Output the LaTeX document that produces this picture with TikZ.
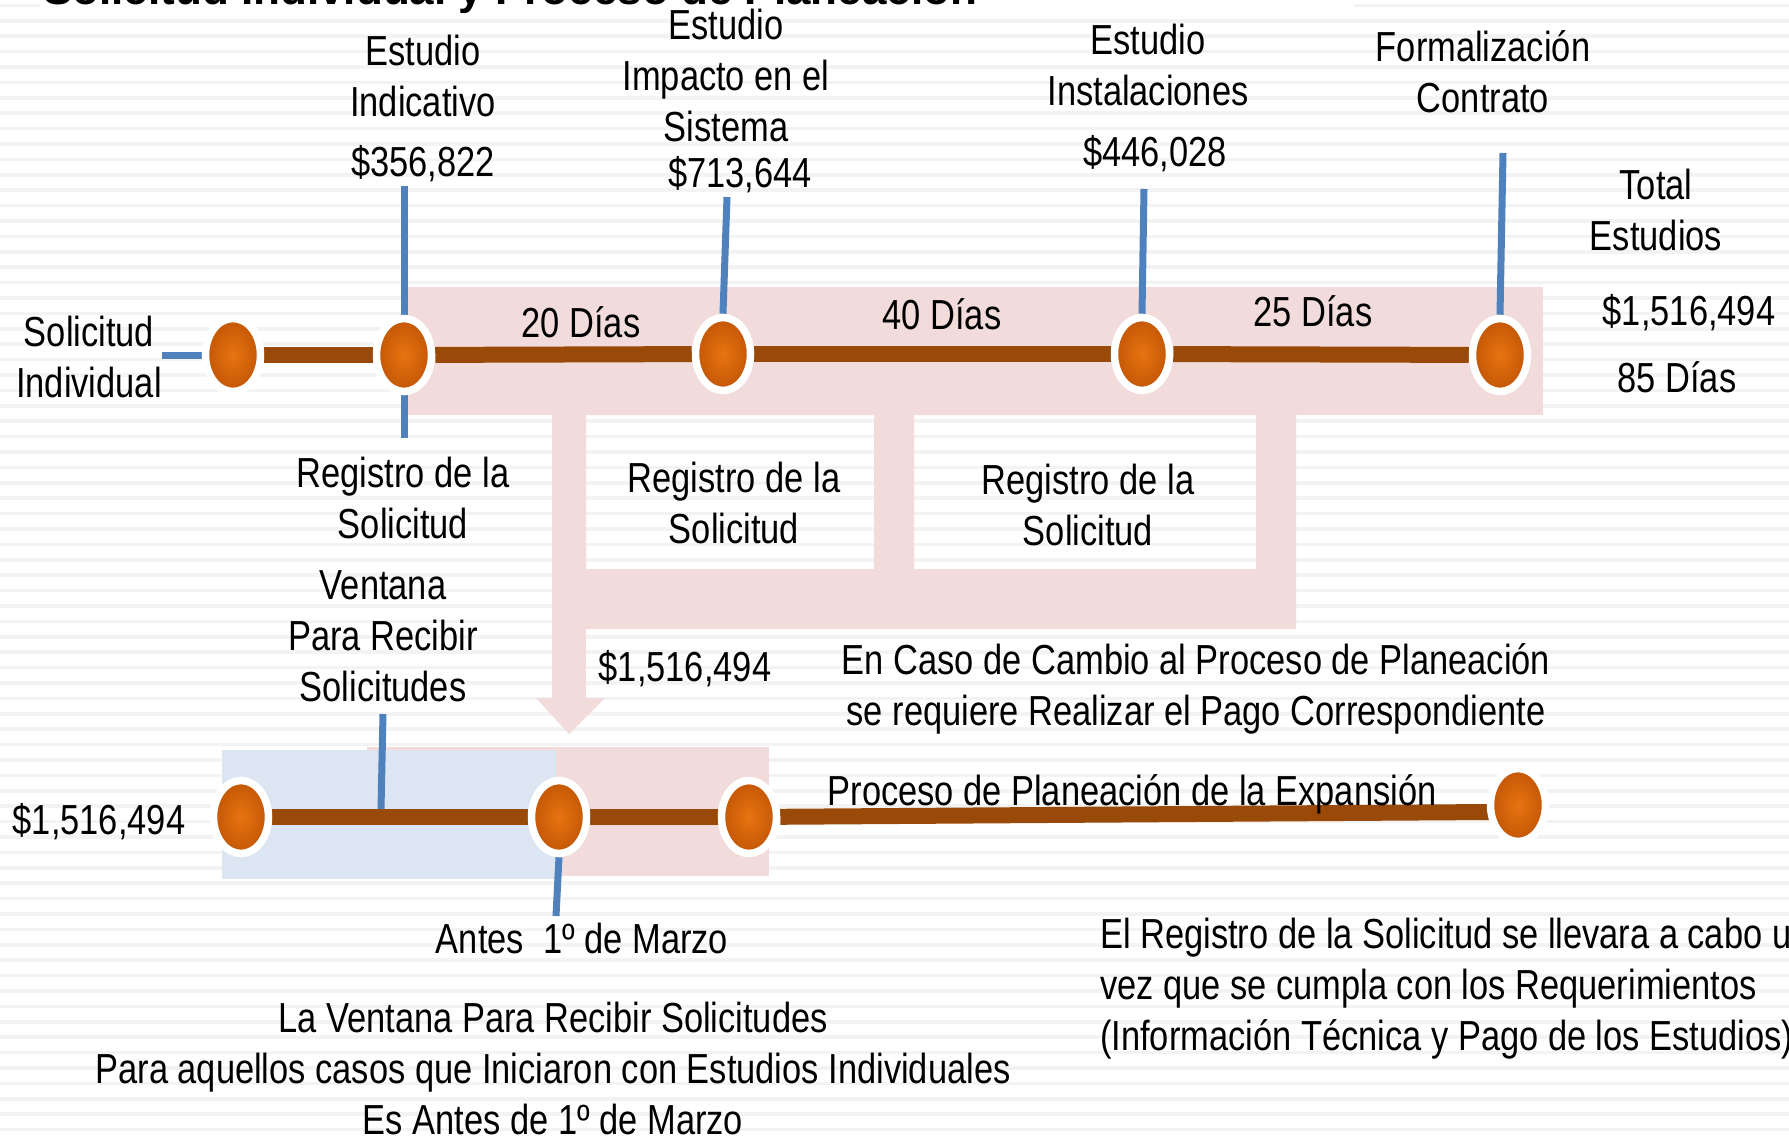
\documentclass[tikz,border=0pt]{standalone}
\usepackage{fontspec}
\setmainfont[FakeStretch=0.82]{Liberation Sans}
\newfontfamily\titlefont{Liberation Sans}
\usetikzlibrary{shapes.geometric}
\pgfdeclarelayer{bgfill}
\pgfdeclarelayer{conn}
\pgfsetlayers{bgfill,conn,main}
\definecolor{pinkc}{HTML}{F2DCDB}
\definecolor{bluebg}{HTML}{DCE6F2}
\definecolor{tickc}{HTML}{4F81BD}
\definecolor{brownc}{HTML}{9A4A08}
\definecolor{dotin}{HTML}{E87410}
\definecolor{dotout}{HTML}{C25606}
\definecolor{stripec}{HTML}{F3F3F3}
\begin{document}
\begin{tikzpicture}[x=1pt,y=-1pt,
  lbl/.style={font=\fontsize{42}{51}\selectfont, inner sep=0pt, align=center, anchor=base},
  dot/.style={shape=ellipse, minimum width=55pt, minimum height=73pt, inner sep=0pt,
              inner color=dotin, outer color=dotout, draw=white, line width=7.5pt},
  tl/.style={draw=brownc, line width=16pt},
  tick/.style={draw=tickc, line width=7pt},
  band/.style={fill=pinkc},
]
\useasboundingbox (0,0) rectangle (1789,1137);

% ---------- backgrounds ----------
\begin{pgfonlayer}{bgfill}
  \fill[white] (0,0) rectangle (1789,1137);
  \foreach \k in {0,...,74} {
    \fill[stripec] (0,{3.6+15.4*\k}) rectangle (1789,{7.2+15.4*\k});
  }
  \fill[white] (40,0) rectangle (1354,13);
  % top pink band
  \fill[band] (402,287) rectangle (1543,415);
  % pink frame with two windows
  \fill[band, even odd rule] (552,414) rectangle (1296,629)
        (586,415) rectangle (874,569)
        (914,415) rectangle (1256,569);
  % arrow down
  \fill[band] (552,628) rectangle (586,699);
  \fill[band] (536,698) -- (605,698) -- (569,734) -- cycle;
  % bottom areas
  \fill[band] (367,747) rectangle (769,876);
  \fill[bluebg] (222,750) rectangle (556,879);
\end{pgfonlayer}

% ---------- title (cut by page edge) ----------
\node[font=\titlefont\bfseries\fontsize{44}{50}\selectfont, inner sep=0pt, anchor=base west]
  (title) at (43,5) {Solicitud Individual y Proceso de Planeación};

% ---------- dots ----------
\node[dot] (d1) at (233,355) {};
\node[dot] (d2) at (404,355) {};
\node[dot] (d3) at (723,354) {};
\node[dot] (d4) at (1142,354) {};
\node[dot] (d5) at (1500,355) {};

\node[dot] (b1) at (241,817) {};
\node[dot] (b2) at (559,817) {};
\node[dot] (b3) at (749,817) {};
\node[dot] (b4) at (1518,805) {};

% free ends of ticks
\coordinate (s0) at (162,355);
\coordinate (t2) at (404,186);
\coordinate (t2b) at (404,438);
\coordinate (t3) at (727,197);
\coordinate (t4) at (1144,189);
\coordinate (t5) at (1503,153);
\coordinate (v1) at (383,714);
\coordinate (v2) at (381,809);
\coordinate (a1) at (556,916);
\coordinate (b4l) at (1492,812);

% ---------- connectors ----------
\begin{pgfonlayer}{conn}
  \draw[tl] (d1) -- (d2);
  \draw[tl] (d2) -- (d3);
  \draw[tl] (d3) -- (d4);
  \draw[tl] (d4) -- (d5);
  \draw[tl] (b1) -- (b2);
  \draw[tl] (b2) -- (b3);
  \draw[tl] (b3) -- (b4l);
  \draw[tick] (s0) -- (d1.west);
  \draw[tick] (t2) -- (d2.north);
  \draw[tick] (d2.south) -- (t2b);
  \draw[tick] (t3) -- (d3.north);
  \draw[tick] (t4) -- (d4.north);
  \draw[tick] (t5) -- (d5.north);
  \draw[tick] (v1) -- (v2);
  \draw[tick] (b2.south) -- (a1);
\end{pgfonlayer}

% ---------- labels (base = baseline of last line) ----------
\node[lbl] (estInd) at (423,117) {Estudio\\Indicativo};
\node[lbl] (prInd) at (423,176) {\$356,822};
\node[lbl] (estImp) at (726,142) {Estudio\\Impacto en el\\Sistema};
\node[lbl] (prImp) at (740,187) {\$713,644};
\node[lbl] (estIns) at (1148,106) {Estudio\\Instalaciones};
\node[lbl] (prIns) at (1155,167) {\$446,028};
\node[lbl] (form) at (1483,113) {Formalización\\Contrato};
\node[lbl] (total) at (1656,250) {Total\\Estudios};
\node[lbl] (totpr) at (1689,325) {\$1,516,494};
\node[lbl] (totd) at (1677,392) {85 Días};
\node[lbl] (d20) at (581,337) {20 Días};
\node[lbl] (d40) at (942,329) {40 Días};
\node[lbl] (d25) at (1313,326) {25 Días};
\node[lbl] (solind) at (89,397) {Solicitud\\Individual};
\node[lbl] (reg1) at (403,538) {Registro de la\\Solicitud};
\node[lbl] (reg2) at (734,543) {Registro de la\\Solicitud};
\node[lbl] (reg3) at (1088,545) {Registro de la\\Solicitud};
\node[lbl] (vent) at (383,701) {Ventana\\Para Recibir\\Solicitudes};
\node[lbl] (pr2) at (685,681) {\$1,516,494};
\node[lbl] (caso) at (1196,725) {En Caso de Cambio al Proceso de Planeación\\se requiere Realizar el Pago Correspondiente};
\node[lbl] (pr3) at (99,834) {\$1,516,494};
\node[lbl] (proc) at (1132,805) {Proceso de Planeación de la Expansión};
\node[lbl] (antes) at (582,953) {Antes\ \ 1º de Marzo};
\node[lbl] (vnota) at (553,1134) {La Ventana Para Recibir Solicitudes\\Para aquellos casos que Iniciaron con Estudios Individuales\\Es Antes de 1º de Marzo};
\node[lbl, align=left, anchor=base west] (regnota) at (1100,1050) {El Registro de la Solicitud se llevara a cabo una\\vez que se cumpla con los Requerimientos\\(Información Técnica y Pago de los Estudios)};
\end{tikzpicture}
\end{document}
